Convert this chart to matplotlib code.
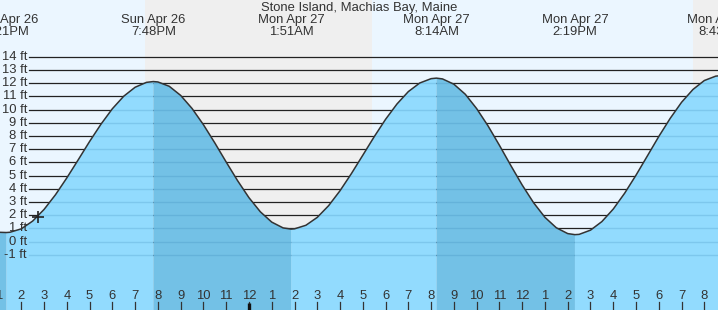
import matplotlib
matplotlib.use("Agg")
import matplotlib.pyplot as plt
from matplotlib.patches import Polygon
import numpy as np

plt.rcParams['font.family'] = ['Liberation Sans', 'DejaVu Sans']

# ---------------- data ----------------
title = "Stone Island, Machias Bay, Maine"

# hours since Sun Apr 26 00:00, tide height in ft
tide_hours = [13.0, 13.35, 13.5, 14.0, 14.5, 15.0, 15.5, 16.0, 16.5, 17.0, 17.5, 18.0, 18.5, 19.0, 19.5, 19.8,
              20.0, 20.5, 21.0, 21.5, 22.0, 22.5, 23.0, 23.5, 24.0, 24.5, 25.0, 25.5, 25.85,
              26.0, 26.5, 27.0, 27.5, 28.0, 28.5, 29.0, 29.5, 30.0, 30.5, 31.0, 31.5, 32.0, 32.233,
              32.5, 33.0, 33.5, 34.0, 34.5, 35.0, 35.5, 36.0, 36.5, 37.0, 37.5, 38.0, 38.317,
              38.5, 39.0, 39.5, 40.0, 40.5, 41.0, 41.5, 42.0, 42.5, 43.0, 43.5, 44.0, 44.5, 44.72]
tide_feet = [0.70, 0.68, 0.70, 0.96, 1.55, 2.43, 3.54, 4.82, 6.19, 7.58, 8.89, 10.06, 11.01, 11.69, 12.06, 12.12,
             12.09, 11.76, 11.07, 10.08, 8.85, 7.47, 6.02, 4.61, 3.32, 2.25, 1.47, 1.03, 0.94,
             0.96, 1.23, 1.83, 2.72, 3.85, 5.15, 6.54, 7.94, 9.26, 10.42, 11.36, 12.01, 12.34, 12.38,
             12.32, 11.92, 11.16, 10.07, 8.76, 7.29, 5.76, 4.28, 2.94, 1.83, 1.04, 0.60, 0.52,
             0.54, 0.86, 1.51, 2.46, 3.66, 5.03, 6.49, 7.96, 9.33, 10.55, 11.52, 12.20, 12.53, 12.57]

# high / low tide events
ext_hours = [13.35, 19.8, 25.85, 32.233, 38.317, 44.72]
ext_kind = ['L', 'H', 'L', 'H', 'L', 'H']
ext_day = ['Sun Apr 26', 'Sun Apr 26', 'Mon Apr 27', 'Mon Apr 27', 'Mon Apr 27', 'Mon Apr 27']
ext_time = ['1:21PM', '7:48PM', '1:51AM', '8:14AM', '2:19PM', '8:43PM']

# sunset / sunrise (hours)
sunset_1 = 19.43
sunrise_1 = 29.40
sunset_2 = 43.50

# current time marker
now_hour = 14.72
now_feet = 1.85

# axis labels
ft_levels = [-1, 0, 1, 2, 3, 4, 5, 6, 7, 8, 9, 10, 11, 12, 13, 14]
ft_labels = ['-1 ft', '0 ft', '1 ft', '2 ft', '3 ft', '4 ft', '5 ft', '6 ft', '7 ft',
             '8 ft', '9 ft', '10 ft', '11 ft', '12 ft', '13 ft', '14 ft']
hour_ticks = list(range(13, 45))
hour_labels = ['1', '2', '3', '4', '5', '6', '7', '8', '9', '10', '11', '12',
               '1', '2', '3', '4', '5', '6', '7', '8', '9', '10', '11', '12',
               '1', '2', '3', '4', '5', '6', '7', '8']
midnight_hour = 24

# ---------------- style ----------------
W, H = 718, 310
day_bg = '#EBF6FF'
night_bg = '#EFEFEF'
water_light = '#92DBFE'
water_dark = '#73C1E6'
text_col = '#333333'
fs = 9.4

fig = plt.figure(figsize=(W / 100, H / 100), dpi=100)
ax = fig.add_axes([0, 0, 1, 1])
ax.set_xlim(13.065, 44.6)
ax.set_ylim(-5.19, 18.30)
ax.axis('off')

t = np.array(tide_hours)
h = np.array(tide_feet)

# backgrounds
ax.axvspan(0, sunset_1, color=day_bg, lw=0, zorder=0)
ax.axvspan(sunset_1, sunrise_1, color=night_bg, lw=0, zorder=0)
ax.axvspan(sunrise_1, sunset_2, color=day_bg, lw=0, zorder=0)
ax.axvspan(sunset_2, 60, color=night_bg, lw=0, zorder=0)

# grid lines in the sky
x0 = 29 / W
for lv in ft_levels:
    ax.axhline(lv, xmin=x0, xmax=1, color='#222222', lw=0.9, zorder=1)

# water fill: dark for falling tide, light for rising
falling = np.zeros_like(t, dtype=bool)
highs = [e for e, k in zip(ext_hours, ext_kind) if k == 'H']
lows = [e for e, k in zip(ext_hours, ext_kind) if k == 'L']
falling |= t <= lows[0]
for hi in highs:
    nxt = [l for l in lows if l > hi]
    end = nxt[0] if nxt else 1e9
    falling |= (t >= hi) & (t <= end)
rising = ~falling
for i in range(len(t)):
    if t[i] in ext_hours:
        rising[i] = True
        falling[i] = True
bottom = -10
ax.fill_between(t, h, bottom, where=rising, color=water_light, lw=0, zorder=2)
ax.fill_between(t, h, bottom, where=falling, color=water_dark, lw=0, zorder=2)

# grid lines in the water (clipped)
verts = np.vstack([np.column_stack([t, h]), [[t[-1], bottom], [t[0], bottom]]])
clip = Polygon(verts, closed=True, transform=ax.transData)
for lv in ft_levels:
    ln = ax.axhline(lv, xmin=x0, xmax=1, color=(0.2, 0.5, 0.7), alpha=0.22, lw=1.0, zorder=3)
    ln.set_clip_path(clip)

# tide curve
ax.plot(t, h, color='#333333', lw=1.1, zorder=4)
ax.plot([now_hour], [now_feet], marker='+', ms=9, mew=1.2, color='#222222', zorder=5)

# y labels
for lv, lb in zip(ft_levels, ft_labels):
    ax.text(27 / W, lv, lb, transform=ax.get_yaxis_transform(), ha='right', va='center',
            fontsize=fs, color=text_col, zorder=6)

# hour ticks & labels
xt = ax.get_xaxis_transform()
for hr, lb in zip(hour_ticks, hour_labels):
    ax.text(hr, 1 - 296 / H, lb, transform=xt, ha='center', va='center', fontsize=fs,
            color=text_col, zorder=6)
    ax.plot([hr, hr], [0, 8 / H], transform=xt, color='#333333', lw=0.9, zorder=6)
ax.plot([midnight_hour, midnight_hour], [0, 7 / H], transform=xt, color='#111111', lw=2.4,
        solid_capstyle='butt', zorder=7)

# header
ax.text(0.5, 1 - 7.5 / H, title, transform=ax.transAxes, ha='center', va='center',
        fontsize=fs, color=text_col, zorder=6)
for eh, d, tm in zip(ext_hours, ext_day, ext_time):
    ax.text(eh, 1 - 20 / H, d, transform=xt, ha='center', va='center', fontsize=fs,
            color=text_col, zorder=6)
    ax.text(eh, 1 - 32 / H, tm, transform=xt, ha='center', va='center', fontsize=fs,
            color=text_col, zorder=6)

fig.savefig('out.png', dpi=100)
